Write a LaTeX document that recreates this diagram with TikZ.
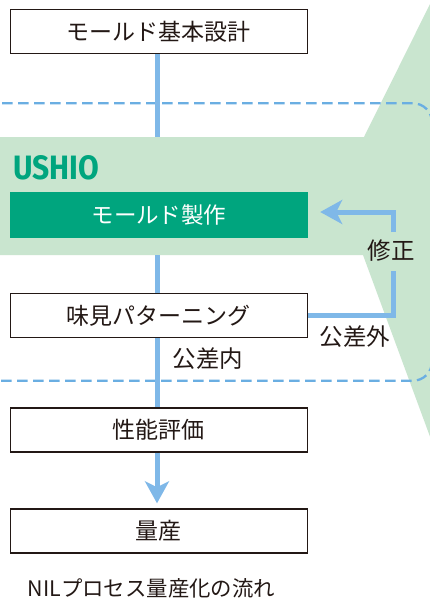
\documentclass[tikz,border=0pt]{standalone}
\usepackage{graphicx}
\usepackage{fontspec}
\setmainfont{Noto Sans CJK JP}
\newfontfamily\latinbold{Fira Sans}
\usetikzlibrary{arrows.meta,calc}
\definecolor{band}{HTML}{C9E5CF}
\definecolor{brand}{HTML}{00A57E}
\definecolor{flowblue}{HTML}{7FB8E8}
\definecolor{dashblue}{HTML}{6AAEE2}
\definecolor{ink}{HTML}{231815}
\tikzset{
  x=1pt,y=-1pt,
  stepbox/.style={draw=ink,line width=1.4pt,fill=white,minimum width=297pt,minimum height=44pt,inner sep=0pt,text=ink,font=\fontsize{23}{23}\selectfont},
  brandbox/.style={fill=brand,minimum width=298pt,minimum height=46pt,inner sep=0pt,text=white,font=\fontsize{22.5}{22.5}\selectfont},
  flow/.style={draw=flowblue,line width=5pt},
  flowhead/.style={-{Stealth[length=22pt,width=24pt,inset=6pt,color=flowblue]}},
  zone/.style={draw=dashblue,line width=2.3pt,dash pattern=on 10.7pt off 5.3pt},
  lbl/.style={text=ink,inner sep=0pt,font=\fontsize{23.5}{23.5}\selectfont},
}
\begin{document}
\begin{tikzpicture}
\useasboundingbox (0,0) rectangle (430,603);
\clip (0,0) rectangle (430,603);
\fill[white] (0,0) rectangle (430,603);
% green band
\coordinate (bandtop) at (0,137);
\coordinate (bandbot) at (0,255);
\fill[band] (bandtop) -- (364,137) -- (432,0) -- (432,442) -- (363,255) -- (bandbot) -- cycle;
% dashed zone
\draw[zone] (2,103.3) -- (413,103.3) arc[start angle=-90,end angle=0,radius=19];
\draw[zone] (1,380.7) -- (413,380.7) arc[start angle=90,end angle=0,radius=19];
% step boxes
\node[stepbox] (b1) at (158.7,31.5) {モールド基本設計};
\node[brandbox] (b2) at (159,215) {モールド製作};
\node[stepbox] (b3) at (158.7,315.5) {味見パターニング};
\node[stepbox] (b4) at (158.7,430) {性能評価};
\node[stepbox] (b5) at (158.7,531) {量産};
\node[inner sep=0pt,anchor=north west,text=brand] (logo) at (13,155) {\resizebox{86pt}{24pt}{\latinbold\bfseries USHIO}};
% labels
\node[lbl] (fix) at (391,251) {修正};
\node[lbl] (out) at (355,337) {公差外};
\node[lbl] (in) at (208,359) {公差内};
\node[text=ink,inner sep=0pt,font=\fontsize{21.4}{21.4}\selectfont] (cap) at (151.5,588) {NILプロセス量産化の流れ};
% connectors
\coordinate (elbowA) at (393,315);
\coordinate (elbowB) at (393,212);
\draw[flow] ([xshift=-1.7pt]b1.south) -- ([xshift=-1.7pt]b1.south |- bandtop);
\draw[flow] ([xshift=-2pt]b2.south |- bandbot) -- ([xshift=-1.7pt]b3.north);
\draw[flow] ([xshift=-1.7pt]b3.south) -- ([xshift=-1.7pt]b4.north);
\draw[flow,flowhead] ([xshift=-1.7pt]b4.south) -- ([xshift=-1.7pt,yshift=5pt]b5.north);
\draw[flow] (b3.east |- elbowA) -- (elbowA) -- (elbowA |- 0,271);
\draw[flow,flowhead] (elbowA |- 0,232) -- (elbowB) -- ([xshift=12pt]b2.east |- elbowB);
\end{tikzpicture}
\end{document}
